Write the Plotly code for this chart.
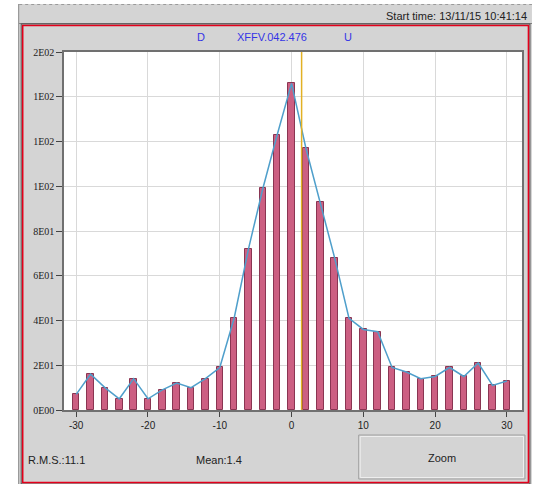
import plotly.graph_objects as go

# Histogram of the XFFV.042.476 deviation counts
bin_centers = [-30, -28, -26, -24, -22, -20, -18, -16, -14, -12, -10, -8, -6, -4, -2,
               0, 2, 4, 6, 8, 10, 12, 14, 16, 18, 20, 22, 24, 26, 28, 30]
counts = [7, 16, 10, 5, 14, 5, 9, 12, 10, 14, 19, 41, 72, 99, 123,
          146, 117, 93, 68, 41, 36, 35, 19, 17, 14, 15, 19, 15, 21, 11, 13]

x_tick_vals = [-30, -20, -10, 0, 10, 20, 30]
x_tick_text = ["-30", "-20", "-10", "0", "10", "20", "30"]
y_tick_vals = [0, 20, 40, 60, 80, 100, 120, 140, 160]
y_tick_text = ["0E00", "2E01", "4E01", "6E01", "8E01", "1E02", "1E02", "1E02", "2E02"]

MEAN = 1.4
RMS = 11.1
START_TIME = "13/11/15 10:41:14"
CHANNEL = "XFFV.042.476"

W, H = 534, 484
PL, PR, PT, PB = 64, 524, 52, 410  # plot-area edges in pixels


def px(x):
    return (x - PL) / (PR - PL)


def py(y):
    return (PB - y) / (PB - PT)


def rect(x0, y0, x1, y1, fill=None, line=None, lw=1, layer="below"):
    return dict(type="rect", xref="paper", yref="paper",
                x0=px(x0), x1=px(x1), y0=py(y1), y1=py(y0),
                fillcolor=fill if fill else "rgba(0,0,0,0)",
                line=dict(color=line if line else "rgba(0,0,0,0)", width=lw if line else 0),
                layer=layer)


def hline(x0, x1, y, color, lw=1, dash="solid", layer="below"):
    return dict(type="line", xref="paper", yref="paper",
                x0=px(x0), x1=px(x1), y0=py(y), y1=py(y),
                line=dict(color=color, width=lw, dash=dash), layer=layer)


def vline(x, y0, y1, color, lw=1, layer="below"):
    return dict(type="line", xref="paper", yref="paper",
                x0=px(x), x1=px(x), y0=py(y0), y1=py(y1),
                line=dict(color=color, width=lw), layer=layer)


def label(text, x, y, xanchor="left", color="#222222", size=11):
    return dict(text=text, xref="paper", yref="paper", x=px(x), y=py(y),
                xanchor=xanchor, yanchor="middle", showarrow=False,
                font=dict(family="Liberation Sans, Arial, sans-serif", size=size, color=color))


fig = go.Figure()

fig.add_trace(go.Bar(
    x=bin_centers, y=counts, width=0.9,
    marker=dict(color="#cc5f82", line=dict(color="#8a3552", width=1)),
    hoverinfo="x+y", showlegend=False,
))
fig.add_trace(go.Scatter(
    x=bin_centers, y=counts, mode="lines",
    line=dict(color="#4f9fcb", width=1.5),
    hoverinfo="skip", showlegend=False,
))

GRAY = "#d4d4d4"
shapes = [
    # window panel and header strip
    rect(18, 4, 534, 484, fill=GRAY),
    hline(19, 534, 4.5, "#9a9a9a", lw=1, dash="dot"),
    vline(18.5, 4, 484, "#8a8a8a", lw=1),
    hline(19, 534, 23.5, "#7a7a7a", lw=1),
    # red framed chart box
    rect(21, 24, 532, 484, line="#505050", lw=1),
    rect(22.5, 25.5, 530.5, 482.5, line="#e3001b", lw=1.6),
    # plot background
    rect(PL, PT, PR, PB, fill="#ffffff"),
    # zoom button
    rect(360, 435, 527, 479, fill=GRAY, line="#a0a0a0", lw=1),
    rect(361.5, 436.5, 525.5, 477.5, line="#eeeeee", lw=1),
    # mean marker
    dict(type="line", xref="x", yref="paper", x0=MEAN, x1=MEAN, y0=0, y1=1,
         line=dict(color="#e2b124", width=1.5), layer="above"),
]

annotations = [
    label("Start time: " + START_TIME, 531, 16, xanchor="right"),
    label("D", 202, 37, xanchor="center", color="#3434e6"),
    label(CHANNEL, 273, 37, xanchor="center", color="#3434e6"),
    label("U", 349, 37, xanchor="center", color="#3434e6"),
    label(f"R.M.S.:{RMS}", 26, 460),
    label(f"Mean:{MEAN}", 195, 460),
    label("Zoom", 444, 458, xanchor="center"),
]

fig.update_layout(
    width=W, height=H,
    margin=dict(l=PL, r=W - PR, t=PT, b=H - PB, pad=0),
    paper_bgcolor="#ffffff",
    plot_bgcolor="rgba(0,0,0,0)",
    shapes=shapes,
    annotations=annotations,
    bargap=0,
    xaxis=dict(
        range=[-31.7, 32.1], tickvals=x_tick_vals, ticktext=x_tick_text,
        ticks="outside", ticklen=5, tickwidth=1, tickcolor="#444444",
        showgrid=True, gridcolor="#d9d9d9", gridwidth=1, zeroline=False,
        showline=True, linecolor="#707070", linewidth=1.5, mirror=True,
        tickfont=dict(family="Liberation Sans, Arial, sans-serif", size=10, color="#222222"),
        fixedrange=True,
    ),
    yaxis=dict(
        range=[0, 160], tickvals=y_tick_vals, ticktext=y_tick_text,
        ticks="outside", ticklen=6, tickwidth=1, tickcolor="#444444",
        showgrid=True, gridcolor="#d9d9d9", gridwidth=1, zeroline=False,
        showline=True, linecolor="#707070", linewidth=1.5, mirror=True,
        tickfont=dict(family="Liberation Serif, Times New Roman, serif", size=10, color="#222222"),
        fixedrange=True,
    ),
)

fig.write_html("out.html", config={"displayModeBar": False})
